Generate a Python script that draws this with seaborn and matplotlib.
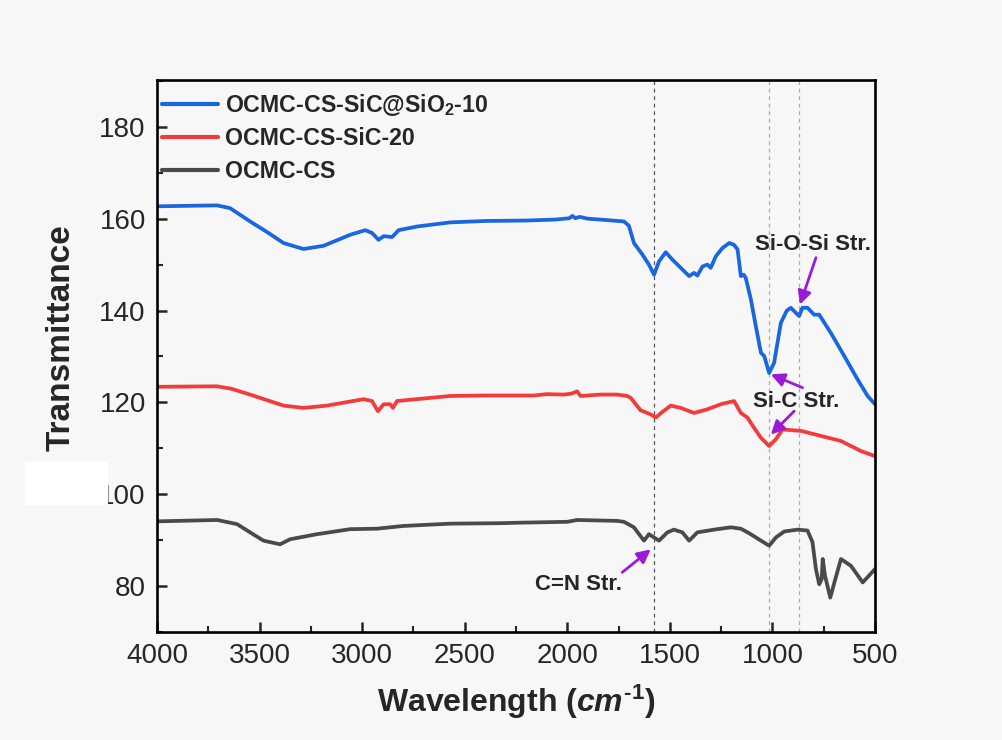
import matplotlib
matplotlib.use("Agg")
import matplotlib.pyplot as plt
from matplotlib.ticker import MultipleLocator, FixedLocator, FixedFormatter
from matplotlib.patches import Rectangle
import seaborn as sns
import pandas as pd

# FTIR spectra: wavenumber (cm^-1) and offset transmittance
wn_sio2 = [4000, 3850, 3707, 3644, 3546, 3460, 3383, 3286, 3188, 3058, 2985, 2952,
           2920, 2895, 2854, 2822, 2732, 2570, 2400, 2200, 2060, 1990, 1975, 1960,
           1940, 1900, 1838, 1724, 1700, 1675, 1634, 1602, 1577, 1553, 1520, 1488,
           1447, 1406, 1382, 1366, 1341, 1317, 1301, 1276, 1244, 1211, 1187, 1170,
           1154, 1140, 1130, 1105, 1081, 1056, 1040, 1016, 992, 959, 930, 910, 886,
           870, 854, 829, 797, 772, 715, 650, 585, 536, 500]
t_sio2 = [162.7, 162.8, 162.9, 162.3, 159.4, 157.0, 154.7, 153.4, 154.1, 156.5, 157.5, 156.9,
          155.4, 156.2, 156.0, 157.5, 158.3, 159.2, 159.5, 159.6, 159.8, 160.1, 160.6, 160.1,
          160.4, 160.0, 159.8, 159.4, 158.5, 154.7, 152.2, 150.0, 147.8, 150.7, 152.7, 151.1,
          149.3, 147.5, 148.2, 147.6, 149.6, 150.0, 149.3, 151.8, 153.6, 154.7, 154.3, 153.3,
          147.5, 147.8, 147.1, 142.4, 136.6, 130.8, 130.1, 126.4, 128.6, 137.3, 140.0, 140.6, 139.5,
          138.8, 140.6, 140.6, 139.1, 139.1, 135.1, 130.1, 125.0, 121.4, 119.6]

wn_sic = [4000, 3707, 3640, 3546, 3383, 3286, 3172, 2993, 2952, 2923, 2895, 2863,
          2850, 2830, 2570, 2407, 2163, 2100, 2017, 1980, 1952, 1935, 1838, 1756,
          1708, 1691, 1643, 1594, 1569, 1540, 1496, 1447, 1382, 1317, 1252, 1187,
          1154, 1122, 1090, 1056, 1016, 983, 951, 861, 763, 666, 568, 500]
t_sic = [123.4, 123.5, 123.0, 121.7, 119.3, 118.8, 119.3, 120.7, 120.3, 118.1, 119.6, 119.6,
         118.8, 120.3, 121.4, 121.5, 121.5, 121.8, 121.7, 121.9, 122.4, 121.4, 121.7, 121.7,
         121.4, 121.0, 118.3, 117.4, 116.7, 117.8, 119.3, 118.8, 117.7, 118.5, 119.6, 120.3,
         117.7, 116.7, 114.5, 112.3, 110.5, 112.0, 114.1, 113.8, 112.7, 111.6, 109.4, 108.3]

wn_cs = [4000, 3707, 3610, 3546, 3481, 3400, 3351, 3221, 3058, 2928, 2798, 2570,
         2326, 2244, 2000, 1952, 1756, 1724, 1675, 1650, 1626, 1602, 1553, 1512,
         1480, 1439, 1406, 1366, 1284, 1203, 1154, 1113, 1056, 1016, 983, 942,
         877, 829, 805, 788, 772, 760, 755, 744, 718, 698, 666, 617, 560, 500]
t_cs = [94.1, 94.4, 93.5, 91.7, 89.9, 89.1, 90.2, 91.3, 92.4, 92.5, 93.1, 93.6,
        93.7, 93.8, 94.0, 94.4, 94.2, 94.0, 92.8, 91.3, 89.9, 91.3, 89.9, 91.7,
        92.3, 91.7, 89.9, 91.7, 92.3, 92.8, 92.5, 91.5, 89.9, 88.8, 90.6, 91.9,
        92.3, 92.1, 89.6, 83.7, 80.4, 81.5, 85.9, 82.3, 77.5, 80.8, 85.9, 84.4, 80.8, 83.7]

series_labels = [r"OCMC-CS-SiC@SiO$_\mathbf{2}$-10", "OCMC-CS-SiC-20", "OCMC-CS"]
series_colors = ["#1a66e0", "#f23b3b", "#4a4a4a"]

x_ticks = [4000, 3500, 3000, 2500, 2000, 1500, 1000, 500]
y_ticks = [80, 100, 120, 140, 160, 180]
y_tick_labels = ["80", "100", "120", "140", "160", "180"]

band_positions = [1579, 1018, 872]
band_colors = ["#555555", "#aaaaaa", "#aaaaaa"]

sns.set_style("ticks")
plt.rcParams["font.family"] = ["Liberation Sans", "DejaVu Sans"]
plt.rcParams["mathtext.fontset"] = "custom"
plt.rcParams["mathtext.rm"] = "Liberation Sans:bold"
plt.rcParams["mathtext.bf"] = "Liberation Sans:bold"
plt.rcParams["mathtext.it"] = "Liberation Sans:bold:italic"

bg = "#f7f7f7"
fig = plt.figure(figsize=(10.03, 7.40), dpi=100, facecolor=bg)
ax = fig.add_axes([0.1565, 0.1459, 0.7159, 0.7460], facecolor=bg)

frames = []
for wn, t, lab in zip([wn_sio2, wn_sic, wn_cs], [t_sio2, t_sic, t_cs], series_labels):
    frames.append(pd.DataFrame({"wavenumber": wn, "transmittance": t, "sample": lab}))
df = pd.concat(frames, ignore_index=True)

sns.lineplot(data=df, x="wavenumber", y="transmittance", hue="sample",
             hue_order=series_labels, palette=series_colors, sort=False,
             estimator=None, linewidth=2.7, ax=ax)

for xpos, c in zip(band_positions, band_colors):
    ax.axvline(xpos, color=c, linestyle=(0, (3, 3)), linewidth=0.9, zorder=0)

ax.set_xlim(4000, 500)
ax.set_ylim(70, 190.2)
ax.xaxis.set_major_locator(FixedLocator(x_ticks))
ax.xaxis.set_minor_locator(MultipleLocator(250))
ax.yaxis.set_major_locator(FixedLocator(y_ticks))
ax.yaxis.set_major_formatter(FixedFormatter(y_tick_labels))
ax.yaxis.set_minor_locator(MultipleLocator(10))
ax.tick_params(which="major", direction="in", length=7, width=1.8, labelsize=20, pad=8)
ax.tick_params(which="minor", direction="in", length=4, width=1.5)
for s in ax.spines.values():
    s.set_linewidth(1.9)
    s.set_color("black")

ax.set_xlabel(r"Wavelength ($cm^{\text{-}1}$)", fontsize=23, fontweight="bold", labelpad=10)
ax.set_ylabel("Transmittance", fontsize=24, fontweight="bold")
ax.yaxis.set_label_coords(-0.112, 0.533)

leg = ax.legend(loc="upper left", frameon=False, fontsize=16.7, handlelength=2.4,
                handletextpad=0.3, labelspacing=0.42, borderaxespad=0.25,
                bbox_to_anchor=(-0.014, 1.006))
for txt in leg.get_texts():
    txt.set_fontweight("bold")
for h in leg.get_lines():
    h.set_linewidth(3)

arrow_color = "#9a1ad6"
ap = dict(arrowstyle="-|>", color=arrow_color, lw=2.0, mutation_scale=20,
          shrinkA=0, shrinkB=0)
ax.text(803, 154.3, "Si-O-Si Str.", fontsize=16, fontweight="bold",
        ha="center", va="center")
ax.annotate("", xy=(866, 141.3), xytext=(788, 151.5), arrowprops=ap)
ax.text(883, 120.3, "Si-C Str.", fontsize=16, fontweight="bold",
        ha="center", va="center")
ax.annotate("", xy=(1008, 126.1), xytext=(853, 123.2), arrowprops=ap)
ax.annotate("", xy=(1008, 113.0), xytext=(894, 118.1), arrowprops=ap)
ax.text(1943, 80.4, "C=N Str.", fontsize=16, fontweight="bold",
        ha="center", va="center")
ax.annotate("", xy=(1593, 88.0), xytext=(1732, 83.0), arrowprops=ap)

# blank patch over the left margin next to the 100 tick
fig.patches.append(Rectangle((25 / 1003, 1 - 505 / 740), 83 / 1003, 43 / 740,
                             transform=fig.transFigure, facecolor="white",
                             edgecolor="none", zorder=5))

fig.savefig("out.png", dpi=100, facecolor=bg)
